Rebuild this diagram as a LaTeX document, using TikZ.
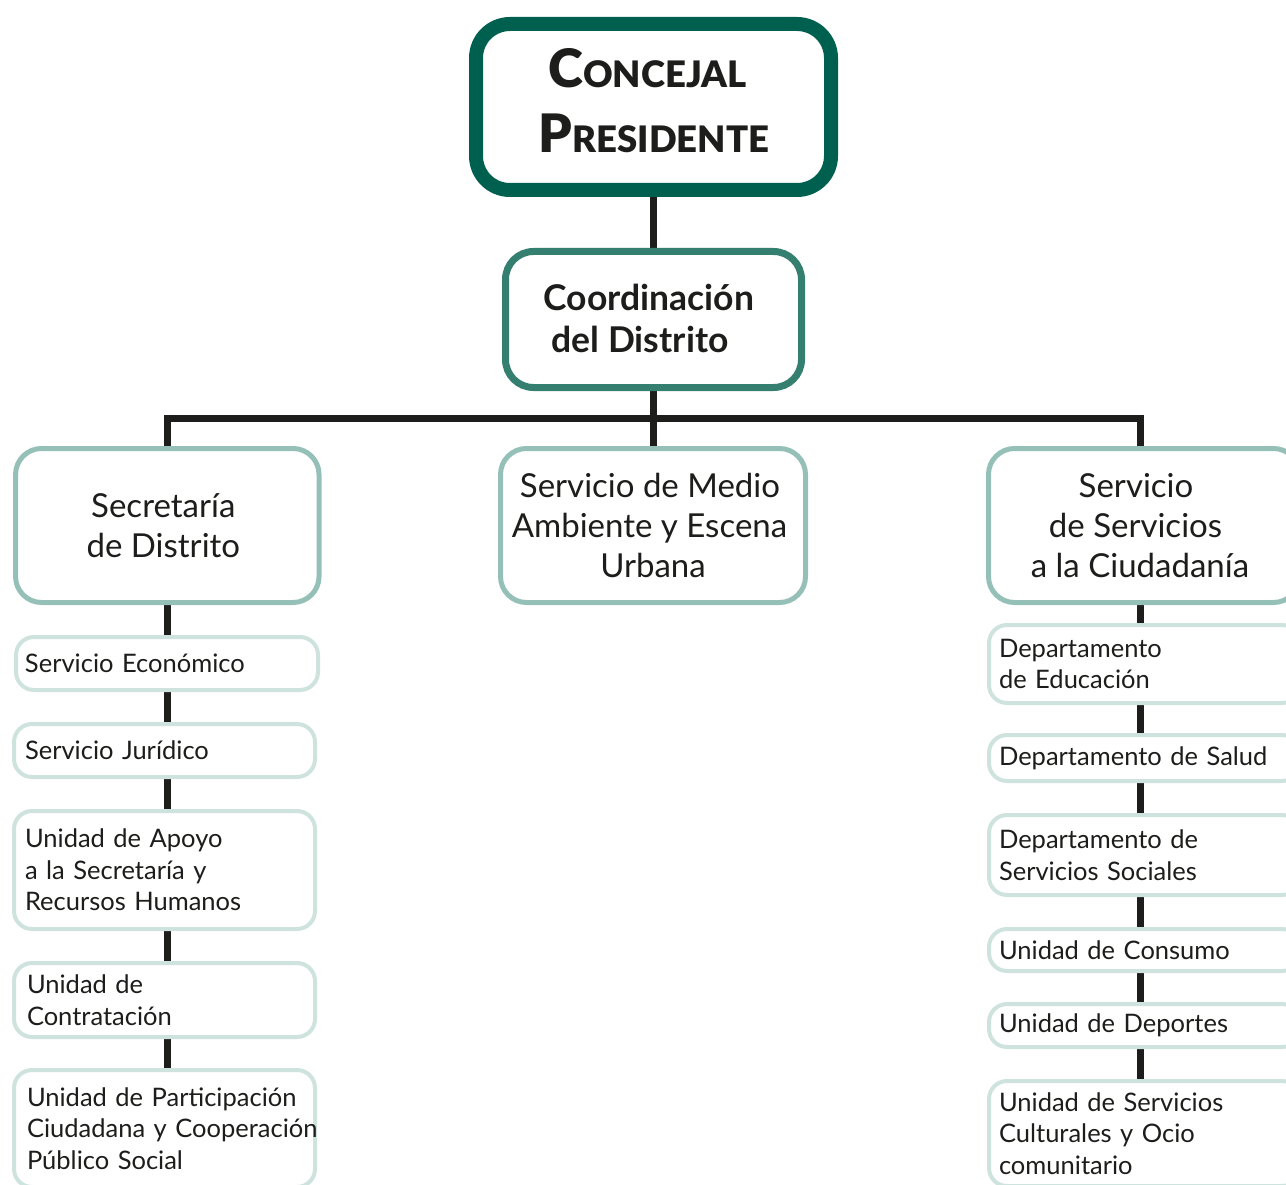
\documentclass[tikz,border=0pt]{standalone}
\usepackage{fontspec}
\setmainfont{Lato}
\newfontfamily\latoblack{Lato Black}
\usetikzlibrary{backgrounds}
\definecolor{dkgreen}{HTML}{00604F}
\definecolor{midgreen}{HTML}{357F71}
\definecolor{ltgreen}{HTML}{95C0B7}
\definecolor{paleg}{HTML}{CFE3DE}
\definecolor{ink}{HTML}{1D1D1B}
\tikzset{
  top/.style={draw=dkgreen, line width=14pt, rounded corners=34pt, fill=white, inner sep=0pt},
  toptext/.style={text=ink, align=center, inner sep=0pt, font=\fontsize{53pt}{65pt}\selectfont\latoblack},
  coord/.style={draw=midgreen, line width=7pt, rounded corners=28pt, fill=white, text=ink, align=center, inner sep=0pt,
    font=\fontsize{35.5pt}{42pt}\selectfont\bfseries},
  lvtwo/.style={draw=ltgreen, line width=5pt, rounded corners=26pt, fill=white, text=ink, align=center, inner sep=0pt,
    font=\fontsize{33pt}{40pt}\selectfont},
  lvthree/.style={draw=paleg, line width=4pt, rounded corners=18pt, fill=white, text=ink, align=left, inner xsep=11pt, inner ysep=0pt,
    font=\fontsize{25.5pt}{31.5pt}\selectfont},
  conn/.style={draw=ink, line width=7pt}
}
\newcommand{\scC}[1]{{\fontsize{36.5pt}{65pt}\selectfont #1}}
\begin{document}
\begin{tikzpicture}[x=1pt,y=-1pt]
\useasboundingbox (0,0) rectangle (1286,1185);
\clip (0,0) rectangle (1286,1185);
% top
\node[top, minimum width=355pt, minimum height=166pt] (cp) at (653.5,107) {};
\node[toptext] (cpt) at (654,100.5) {C\scC{ONCEJAL}\hspace*{13pt}\\P\scC{RESIDENTE}};
\node[coord, minimum width=296pt, minimum height=136pt] (cd) at (653.5,319.5) {\raisebox{3pt}{Coordinación}\hspace*{9pt}\\\raisebox{3pt}{del Distrito}\hspace*{27pt}};
% level 2
\node[lvtwo, minimum width=303.5pt, minimum height=154pt] (sd) at (167.3,525.5) {Secretaría\hspace*{8pt}\\de Distrito\hspace*{8pt}};
\node[lvtwo, minimum width=305pt, minimum height=154pt] (ma) at (653,525.5) {\mbox{Servicio de Medio\hspace*{6pt}}\\\mbox{Ambiente y Escena\hspace*{7pt}}\\\mbox{Urbana}};
\node[lvtwo, minimum width=311pt, minimum height=154pt] (sc) at (1144,525.5) {\mbox{Servicio\hspace*{16pt}}\\\mbox{de Servicios\hspace*{17pt}}\\\mbox{a la Ciudadanía\hspace*{8pt}}};
\coordinate (bus) at (653,418);
% left column
\node[lvthree, minimum width=302pt, text width=280pt, minimum height=53pt] (l1) at (167,663.5) {\mbox{\hspace*{-2pt}Servicio Económico}};
\node[lvthree, minimum width=301pt, text width=279pt, minimum height=53pt] (l2) at (164.5,750.5) {Servicio Jurídico};
\node[lvthree, minimum width=301pt, text width=279pt, minimum height=118pt] (l3) at (164.5,870) {Unidad de Apoyo\\a la Secretaría y\\Recursos Humanos};
\node[lvthree, minimum width=301pt, text width=279pt, minimum height=74pt] (l4) at (164.5,1000) {\mbox{\hspace*{2pt}Unidad de}\\\mbox{\hspace*{2pt}Contratación}};
\node[lvthree, minimum width=301pt, text width=279pt, minimum height=117pt] (l5) at (164.5,1128.5) {\mbox{\hspace*{2pt}Unidad de Participación}\\\mbox{\hspace*{2pt}Ciudadana y Cooperación}\\\mbox{\hspace*{2pt}Público Social}};
% right column
\node[lvthree, minimum width=311pt, text width=291pt, minimum height=78pt, inner xsep=10pt] (r1) at (1144.5,664) {Departamento\\de Educación};
\node[lvthree, minimum width=311pt, text width=291pt, minimum height=46pt, inner xsep=10pt] (r2) at (1144.5,758) {Departamento de Salud};
\node[lvthree, minimum width=311pt, text width=291pt, minimum height=80pt, inner xsep=10pt] (r3) at (1144.5,855) {Departamento de\\Servicios Sociales};
\node[lvthree, minimum width=311pt, text width=291pt, minimum height=42pt, inner xsep=10pt] (r4) at (1144.5,950) {Unidad de Consumo};
\node[lvthree, minimum width=311pt, text width=291pt, minimum height=43pt, inner xsep=10pt] (r5) at (1144.5,1025.5) {Unidad de Deportes};
\node[lvthree, minimum width=311pt, text width=291pt, minimum height=105pt, inner xsep=10pt] (r6) at (1144.5,1133.5) {Unidad de Servicios\\Culturales y Ocio\\comunitario};
\coordinate (lx) at (167.5,418);
\coordinate (rx) at (1140,418);
\begin{scope}[on background layer]
\draw[conn] (cp.south -| bus) -- (cd.north -| bus);
\draw[conn] (cd.south -| bus) -- (bus);
\draw[conn] (lx) -- (rx);
\draw[conn] (bus) -- (ma.north -| bus);
\draw[conn] ([yshift=3.5pt]lx) -- (sd.north -| lx);
\draw[conn] ([yshift=3.5pt]rx) -- (sc.north -| rx);
\draw[conn] (sd.south -| lx) -- (l5.north -| lx);
\draw[conn] (sc.south -| rx) -- (r6.north -| rx);
\end{scope}
\end{tikzpicture}
\end{document}
